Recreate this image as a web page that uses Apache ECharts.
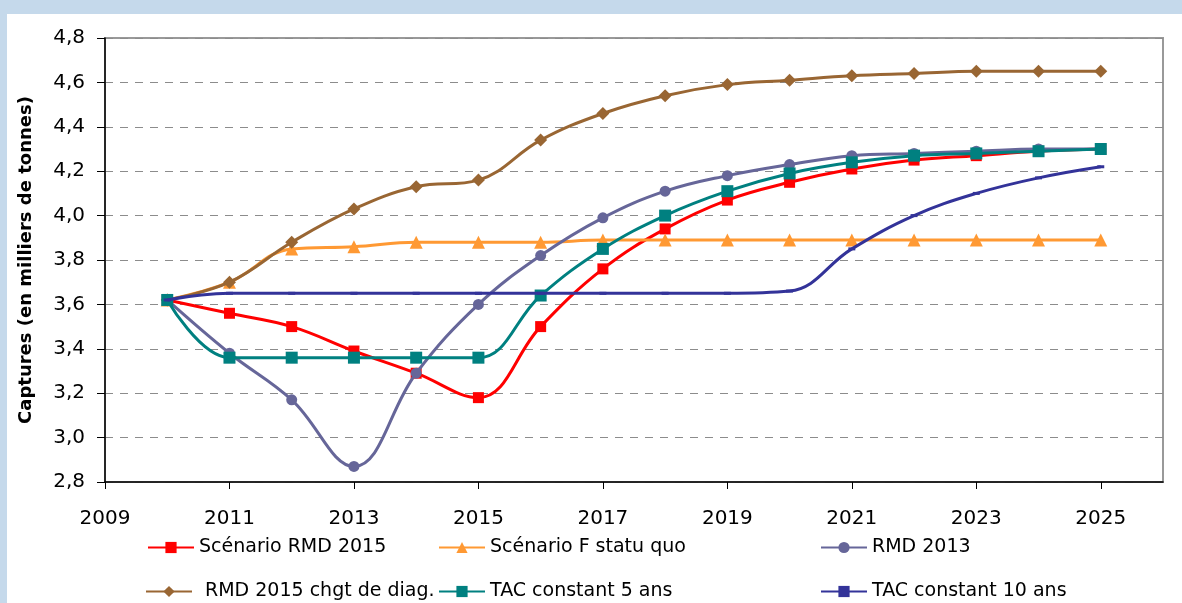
<!DOCTYPE html>
<html>
<head>
<meta charset="utf-8">
<script src="https://cdn.jsdelivr.net/npm/echarts@6/dist/echarts.min.js"></script>
<style>
html,body{margin:0;padding:0;background:#c5d9eb;}
#chart{width:1182px;height:603px;}
</style>
</head>
<body>
<div id="chart"></div>
<script>
// Axis categories (years); labels shown on odd years only
const years = ['2009','2010','2011','2012','2013','2014','2015','2016','2017','2018','2019','2020','2021','2022','2023','2024','2025','2026'];
// Data years 2010..2025
const scenarioRMD2015 = [3.62, 3.56, 3.50, 3.39, 3.29, 3.18, 3.50, 3.76, 3.94, 4.07, 4.15, 4.21, 4.25, 4.27, 4.29, 4.30];
const scenarioFStatuQuo = [3.62, 3.70, 3.85, 3.86, 3.88, 3.88, 3.88, 3.89, 3.89, 3.89, 3.89, 3.89, 3.89, 3.89, 3.89, 3.89];
const rmd2013 = [3.62, 3.38, 3.17, 2.87, 3.29, 3.60, 3.82, 3.99, 4.11, 4.18, 4.23, 4.27, 4.28, 4.29, 4.30, 4.30];
const rmd2015Diag = [3.62, 3.70, 3.88, 4.03, 4.13, 4.16, 4.34, 4.46, 4.54, 4.59, 4.61, 4.63, 4.64, 4.65, 4.65, 4.65];
const tac5 = [3.62, 3.36, 3.36, 3.36, 3.36, 3.36, 3.64, 3.85, 4.00, 4.11, 4.19, 4.24, 4.27, 4.28, 4.29, 4.30];
const tac10 = [3.62, 3.65, 3.65, 3.65, 3.65, 3.65, 3.65, 3.65, 3.65, 3.65, 3.66, 3.85, 4.00, 4.10, 4.17, 4.22];
const seriesNames = ['Scénario RMD 2015', 'Scénario F statu quo', 'RMD 2013', 'RMD 2015 chgt de diag.', 'TAC constant 5 ans', 'TAC constant 10 ans'];

function pad(arr){ return [null].concat(arr, [null]); }
const FONT = 'DejaVu Sans';

const chart = echarts.init(document.getElementById('chart'), null, {renderer:'canvas'});

function mkSeries(name, data, color, symbol, size, z){
  return {
    name: name, type: 'line', data: pad(data), smooth: 0.4,
    symbol: symbol, symbolSize: size, showSymbol: true,
    lineStyle: {color: color, width: 3},
    itemStyle: {color: color},
    connectNulls: false, z: z, animation: false
  };
}

function mkLegend(name, left, top, extraPad){
  return {
    data: [{name: name}], left: left, top: top, orient: 'horizontal',
    itemWidth: 46, itemHeight: 14, padding: 0,
    textStyle: {fontFamily: FONT, fontSize: 19, color: '#000', padding: [0,0,0,extraPad||0]},
    selectedMode: false
  };
}

const option = {
  animation: false,
  backgroundColor: 'transparent',
  graphic: [{type:'rect', left: 7, top: 14, shape:{width:1175, height:589}, style:{fill:'#ffffff'}, z:-10}],
  grid: {left: 105, right: 19, top: 38, bottom: 121, show: true, borderColor: '#999', borderWidth: 2, backgroundColor: 'transparent'},
  legend: [
    mkLegend(seriesNames[0], 147, 538),
    mkLegend(seriesNames[1], 438, 538),
    mkLegend(seriesNames[2], 820, 538),
    mkLegend(seriesNames[3], 145, 582, 8),
    mkLegend(seriesNames[4], 438, 582),
    mkLegend(seriesNames[5], 820, 582)
  ],
  xAxis: {
    type: 'category', data: years, boundaryGap: false,
    axisLine: {lineStyle: {color: '#000', width: 1.5}},
    axisTick: {show: true, length: 7, interval: function(i, v){ return (+v) % 2 === 1 && +v <= 2025; }, lineStyle:{color:'#000'}},
    axisLabel: {interval: function(i, v){ return (+v) % 2 === 1 && +v <= 2025; }, fontFamily: FONT, fontSize: 20, color: '#000', margin: 27},
    splitLine: {show: false}
  },
  yAxis: {
    type: 'value', min: 2.8, max: 4.8, interval: 0.2,
    name: 'Captures (en milliers de tonnes)', nameLocation: 'middle', nameGap: 70, nameRotate: 90,
    nameTextStyle: {fontFamily: FONT, fontSize: 18, fontWeight: 'bold', color: '#000'},
    axisLine: {show: true, lineStyle: {color: '#000', width: 1.5}},
    axisTick: {show: true, length: 8, lineStyle:{color:'#000'}},
    axisLabel: {fontFamily: FONT, fontSize: 20, color: '#000', margin: 20,
      formatter: function(v){ return v.toFixed(1).replace('.', ','); }},
    splitLine: {show: true, lineStyle: {color: '#8c8c8c', type: [8, 7], width: 1}}
  },
  series: [
    mkSeries(seriesNames[0], scenarioRMD2015, '#FF0000', 'rect', 11, 2),
    mkSeries(seriesNames[1], scenarioFStatuQuo, '#FF9933', 'triangle', 13, 3),
    mkSeries(seriesNames[2], rmd2013, '#666699', 'circle', 11, 4),
    mkSeries(seriesNames[3], rmd2015Diag, '#996633', 'diamond', 13, 5),
    mkSeries(seriesNames[4], tac5, '#008080', 'rect', 12, 6),
    mkSeries(seriesNames[5], tac10, '#333399', 'rect', [7, 3], 7)
  ]
};
chart.setOption(option);
</script>
</body>
</html>
